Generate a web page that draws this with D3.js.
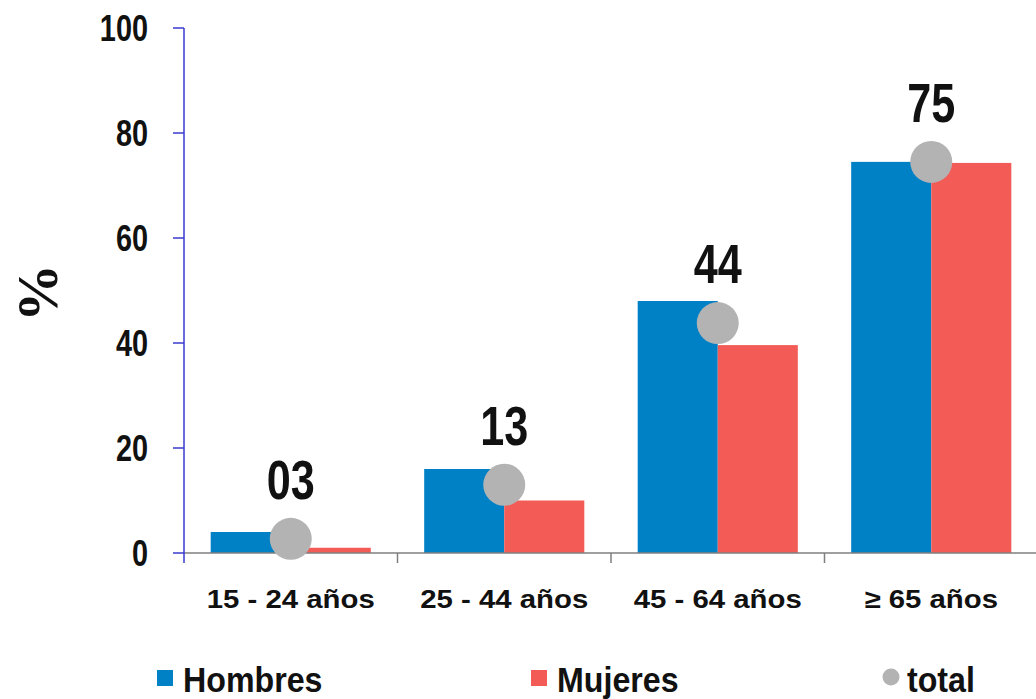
<!DOCTYPE html>
<html><head><meta charset="utf-8">
<script src="https://cdn.jsdelivr.net/npm/d3@7"></script>
<style>
body{margin:0;background:#fff;}
.sans{font-family:"Liberation Sans",Arial,sans-serif;font-weight:bold;}
</style>
</head><body>
<svg id="chart" width="1036" height="699"></svg>
<script>
const categories = ["15 - 24 años", "25 - 44 años", "45 - 64 años", "≥ 65 años"];
const hombres = [4.0, 16.0, 48.0, 74.5];
const mujeres = [1.0, 10.0, 39.6, 74.3];
const total = [2.7, 13.0, 43.8, 74.5];
const yTicks = [0, 20, 40, 60, 80, 100];
const seriesNames = ["Hombres", "Mujeres", "total"];

const svg = d3.select("#chart");
const colors = {Hombres:"#0081c6", Mujeres:"#f25b56", total:"#b3b3b3"};

const y = d3.scaleLinear().domain([0,100]).range([553,28]);
const x0 = d3.scaleBand().domain(categories).range([184,1038]).paddingInner(0.25).paddingOuter(0.125);
const x1 = d3.scaleBand().domain(["Hombres","Mujeres"]).range([0, x0.bandwidth()]);

function stretched(sel, x, yy, sx){
  return sel.attr("x",0).attr("y",0).attr("transform",`translate(${x},${yy}) scale(${sx},1)`);
}

// bars
categories.forEach((c,i)=>{
  const g = svg.append("g").attr("transform",`translate(${x0(c)},0)`);
  [["Hombres",hombres[i]],["Mujeres",mujeres[i]]].forEach(([s,v])=>{
    g.append("rect").attr("x",x1(s)).attr("width",x1.bandwidth())
      .attr("y",y(v)).attr("height",y(0)-y(v)).attr("fill",colors[s]);
  });
});

// x axis
const step = x0.step();
svg.append("line").attr("x1",184).attr("x2",1036).attr("y1",y(0)).attr("y2",y(0))
  .attr("stroke","#7f7f7f").attr("stroke-width",1.5);
d3.range(1, categories.length+1).forEach(i=>{
  const xx = 184 + i*step;
  svg.append("line").attr("x1",xx).attr("x2",xx).attr("y1",y(0)).attr("y2",y(0)+10)
    .attr("stroke","#7f7f7f").attr("stroke-width",1.5);
});
categories.forEach(c=>{
  const t = svg.append("text").attr("class","sans").attr("text-anchor","middle")
    .attr("font-size",26).attr("fill","#111").text(c);
  stretched(t, x0(c)+x0.bandwidth()/2, 608, 1.13);
});

// y axis
const ya = svg.append("g").attr("transform","translate(184,0)");
ya.append("path").attr("fill","none").attr("stroke","#3a3ad0").attr("stroke-width",1.5)
  .attr("d",`M0,${y(100)}V${y(0)+10}`);
yTicks.forEach(v=>{
  ya.append("line").attr("x1",-11).attr("x2",0).attr("y1",y(v)).attr("y2",y(v))
    .attr("stroke","#3a3ad0").attr("stroke-width",1.5);
  const t = ya.append("text").attr("class","sans").attr("text-anchor","end")
    .attr("font-size",37).attr("fill","#111").attr("dy","0.36em").text(v);
  stretched(t, -36, y(v), 0.78);
});

svg.append("text").attr("transform","translate(57,293) rotate(-90)")
  .attr("text-anchor","middle").attr("font-family","'Liberation Serif','Times New Roman',serif")
  .attr("font-weight","bold").attr("font-size",58).attr("fill","#111").text("%");

// total points and labels
const fmt = d3.format("02.0f");
categories.forEach((c,i)=>{
  const cx = x0(c)+x0.bandwidth()/2;
  svg.append("circle").attr("cx",cx).attr("cy",y(total[i])).attr("r",21).attr("fill",colors.total);
  const t = svg.append("text").attr("class","sans").attr("text-anchor","middle")
    .attr("font-size",56).attr("fill","#111").text(fmt(total[i]));
  stretched(t, cx, y(total[i])-40, 0.77);
});

// legend
const legX = [157, 531, 882];
seriesNames.forEach((s,i)=>{
  const g = svg.append("g").attr("transform",`translate(${legX[i]},670)`);
  if(s==="total") g.append("circle").attr("cx",9).attr("cy",7).attr("r",8.5).attr("fill",colors[s]);
  else g.append("rect").attr("width",16).attr("height",16).attr("fill",colors[s]);
  const t = g.append("text").attr("class","sans").attr("font-size",35).attr("fill","#111").text(s);
  stretched(t, s==="total"?25:26, 22, 0.92);
});
</script>
</body></html>
